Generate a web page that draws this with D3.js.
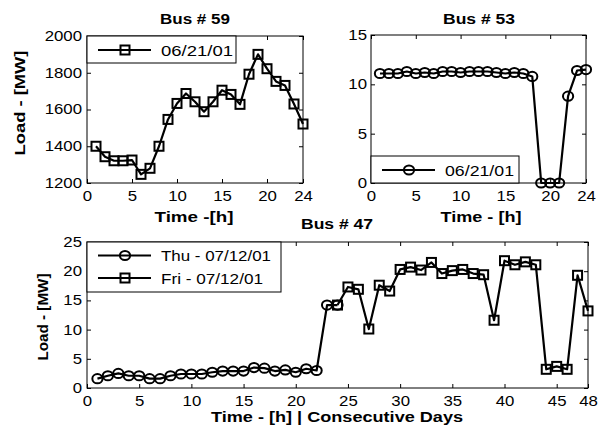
<!DOCTYPE html>
<html lang="en">
<head>
<meta charset="utf-8">
<title>bus loads</title>
<script src="https://cdn.jsdelivr.net/npm/d3@7"></script>
<style>
  body { margin: 0; background: #fff; }
  text { font-family: "Liberation Sans", Arial, sans-serif; fill: #000; }
  .box { fill: none; stroke: #000; stroke-width: 1px; }
  .series { fill: none; stroke: #000; stroke-width: 2.2px; stroke-linejoin: round; }
  .mark { fill: none; stroke: #000; stroke-width: 2px; }
  .legend-box { fill: #fff; stroke: #000; stroke-width: 1px; }
</style>
</head>
<body>
<div id="chart"></div>
<script>

// data
var hours = [1,2,3,4,5,6,7,8,9,10,11,12,13,14,15,16,17,18,19,20,21,22,23,24];
var bus59Load = [1400,1343,1321,1321,1325,1247,1280,1400,1546,1633,1687,1642,
                 1588,1642,1705,1682,1628,1792,1900,1822,1753,1731,1630,1521];
var bus53Load = [11.1,11.1,11.1,11.3,11.1,11.2,11.1,11.3,11.3,11.2,11.3,11.3,
                 11.3,11.2,11.1,11.2,11.1,10.8,0,0,0,8.8,11.4,11.5];

var thuHours = [1,2,3,4,5,6,7,8,9,10,11,12,13,14,15,16,17,18,19,20,21,22,23,24];
var thuLoad = [1.6,2.1,2.5,2.1,2.1,1.6,1.6,2.1,2.4,2.4,2.4,2.7,2.9,2.9,2.9,3.5,
               3.4,2.9,3.1,2.7,3.3,3.0,14.2,14.2];
var friHours = [24,25,26,27,28,29,30,31,32,33,34,35,36,37,38,39,40,41,42,43,44,45,46,47,48];
var friLoad = [14.2,17.3,16.9,10.1,17.6,16.6,20.3,20.7,20.2,21.5,19.6,20.1,20.3,19.6,
               19.4,11.6,21.8,21.1,21.6,21.1,3.2,3.7,3.2,19.3,13.2];

var ticks24 = [0,5,10,15,20,24];
var ticks48 = [0,5,10,15,20,25,30,35,40,45,48];

var SX = 1.2; // text looks horizontally stretched in the original

var width = 603, height = 430;

var svg = d3.select("#chart")
  .append("svg")
  .attr("width", width)
  .attr("height", height);

// stretched text helper
function label(x, y, str, opt) {
  opt = opt || {};
  var t = svg.append("text")
    .attr("transform", "translate(" + x + "," + y + ")" + (opt.rotate ? " rotate(" + opt.rotate + ")" : ""))
    .attr("text-anchor", opt.anchor || "middle")
    .style("font-size", (opt.size || 14) + "px")
    .style("font-weight", opt.bold ? "bold" : "normal")
    .text(str);
  if (opt.len) {
    t.attr("textLength", opt.len).attr("lengthAdjust", "spacingAndGlyphs");
  }
  return t;
}

function drawMarker(g, kind, cx, cy) {
  if (kind == "square") {
    g.append("rect").attr("class", "mark")
      .attr("x", cx - 4.5).attr("y", cy - 4.5)
      .attr("width", 9).attr("height", 9);
  } else {
    g.append("ellipse").attr("class", "mark")
      .attr("cx", cx).attr("cy", cy)
      .attr("rx", 5.1).attr("ry", 4.6);
  }
}

function panel(p) {
  var x = d3.scaleLinear().domain(p.xdom).range([p.left, p.right]);
  var y = d3.scaleLinear().domain(p.ydom).range([p.bottom, p.top]);
  var g = svg.append("g");

  // axes with ticks inside, mirrored on top / right
  var ax = g.append("g")
    .attr("transform", "translate(0," + p.bottom + ")")
    .call(d3.axisBottom(x).tickValues(p.xticks).tickFormat(d3.format("d"))
      .tickSizeInner(-4).tickSizeOuter(0).tickPadding(8));
  ax.selectAll("text").attr("transform", "scale(" + SX + ",1)").style("font-size", "14px");

  var ay = g.append("g")
    .attr("transform", "translate(" + p.left + ",0)")
    .call(d3.axisLeft(y).tickValues(p.yticks).tickFormat(d3.format("d"))
      .tickSizeInner(-4).tickSizeOuter(0));
  ay.selectAll("text")
    .attr("x", -p.ygap / SX)
    .attr("transform", "scale(" + SX + ",1)")
    .style("font-size", "14px");

  g.append("g")
    .attr("transform", "translate(0," + p.top + ")")
    .call(d3.axisTop(x).tickValues(p.xticks).tickSizeInner(-4).tickSizeOuter(0).tickFormat(""));
  g.append("g")
    .attr("transform", "translate(" + p.right + ",0)")
    .call(d3.axisRight(y).tickValues(p.yticks).tickSizeInner(-4).tickSizeOuter(0).tickFormat(""));

  g.selectAll(".domain").remove();
  g.selectAll(".tick line").attr("stroke", "#000");

  g.append("rect").attr("class", "box")
    .attr("x", p.left).attr("y", p.top)
    .attr("width", p.right - p.left).attr("height", p.bottom - p.top);

  var line = d3.line()
    .x(function(d) { return x(d[0]); })
    .y(function(d) { return y(d[1]); });

  p.series.forEach(function(s) {
    var pts = d3.zip(s.x, s.y);
    g.append("path").attr("class", "series").attr("d", line(pts));
    pts.forEach(function(d) { drawMarker(g, s.marker, x(d[0]), y(d[1])); });
  });

  // legend
  var lg = svg.append("g");
  var L = p.legend;
  lg.append("rect").attr("class", "legend-box")
    .attr("x", L.x).attr("y", L.y).attr("width", L.w).attr("height", L.h);
  L.items.forEach(function(it, i) {
    var yy = L.y + L.first + i * L.step;
    lg.append("line")
      .attr("x1", L.x + 11).attr("x2", L.x + 64)
      .attr("y1", yy).attr("y2", yy)
      .attr("stroke", "#000").attr("stroke-width", 2.2);
    drawMarker(lg, it.marker, L.x + 38, yy);
    label(L.x + 74, yy + 5.5, it.text, { anchor: "start", size: 15, len: it.len });
  });
}

// Bus # 59
panel({
  left: 87, right: 303, top: 36, bottom: 183,
  xdom: [0, 24], ydom: [1200, 2000],
  xticks: ticks24, yticks: [1200, 1400, 1600, 1800, 2000], ygap: 5,
  series: [{ x: hours, y: bus59Load, marker: "square" }],
  legend: { x: 87, y: 36, w: 149, h: 27, first: 14, step: 0,
            items: [{ text: "06/21/01", marker: "square", len: 72 }] }
});

// Bus # 53
panel({
  left: 371, right: 586, top: 35, bottom: 183,
  xdom: [0, 24], ydom: [0, 15],
  xticks: ticks24, yticks: [0, 5, 10, 15], ygap: 4,
  series: [{ x: hours, y: bus53Load, marker: "circle" }],
  legend: { x: 371, y: 156, w: 148, h: 27, first: 14, step: 0,
            items: [{ text: "06/21/01", marker: "circle", len: 69 }] }
});

// Bus # 47
panel({
  left: 87, right: 588, top: 242, bottom: 388,
  xdom: [0, 48], ydom: [0, 25],
  xticks: ticks48, yticks: [0, 5, 10, 15, 20, 25], ygap: 5,
  series: [
    { x: friHours, y: friLoad, marker: "square" },
    { x: thuHours, y: thuLoad, marker: "circle" }
  ],
  legend: { x: 87, y: 242, w: 194, h: 50, first: 13.5, step: 22.5,
            items: [{ text: "Thu - 07/12/01", marker: "circle", len: 110 },
                    { text: "Fri - 07/12/01", marker: "square", len: 102 }] }
});

// titles and axis labels
label(195, 24, "Bus # 59", { bold: true, len: 70 });
label(479, 24, "Bus # 53", { bold: true, len: 72 });
label(337, 229, "Bus # 47", { bold: true, len: 72 });

label(194, 222, "Time -[h]", { bold: true, len: 79 });
label(481, 222, "Time - [h]", { bold: true, len: 81 });
label(337, 422, "Time - [h] | Consecutive Days", { bold: true, len: 252 });

label(25, 103, "Load - [MW]", { bold: true, rotate: -90, len: 105 });
label(48, 317, "Load - [MW]", { bold: true, rotate: -90, len: 87 });

</script>
</body>
</html>
